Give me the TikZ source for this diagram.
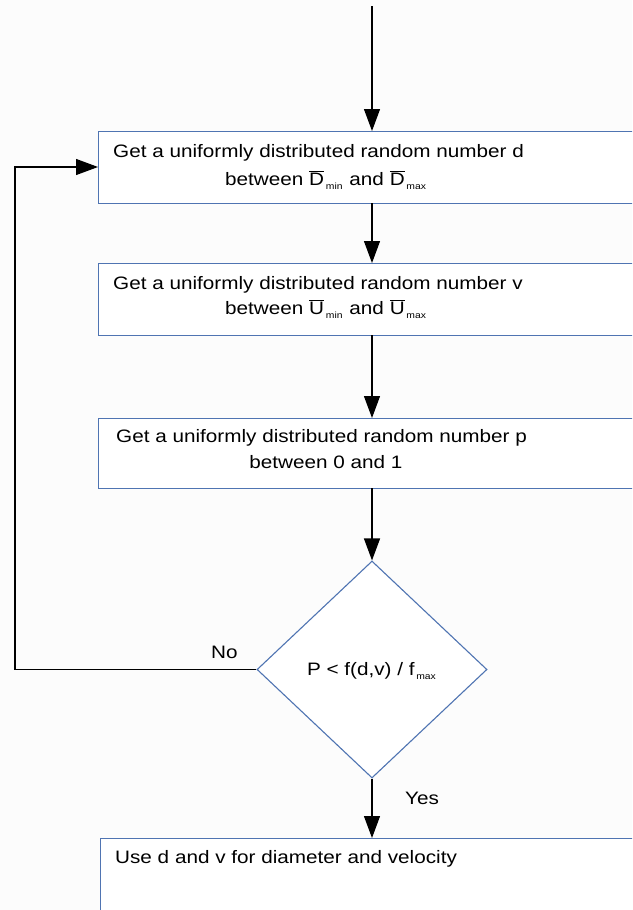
\documentclass[tikz,border=0pt]{standalone}
\usepackage{fontspec}
\usepackage{graphicx}
\setmainfont{Liberation Sans}
\usetikzlibrary{arrows.meta,shapes.geometric}
\definecolor{boxblue}{RGB}{79,116,178}
\newcommand{\lowsub}[1]{\hspace{1.5pt}\raisebox{-4pt}{\fontsize{9}{10}\selectfont #1}\hspace{1pt}}
\newcommand{\barred}[1]{$\overline{\mbox{#1}}$}
\newcommand{\wide}[1]{\scalebox{1.15}[1]{#1}}
\begin{document}
\begin{tikzpicture}[x=1pt,y=-1pt,
  procbox/.style={draw=boxblue,line width=1.1pt,rectangle,anchor=north west,minimum width=560pt,inner sep=0pt},
  txt/.style={anchor=west,inner sep=0pt,font=\fontsize{18}{20}\selectfont},
  ctxt/.style={txt,anchor=center},
  conn/.style={draw=black,line width=1.2pt},
  arr/.style={conn,-{Triangle[length=22pt,width=16pt]}},
  decision/.style={draw=boxblue,line width=1.1pt,diamond,minimum width=230pt,minimum height=217pt,inner sep=0pt}]
\useasboundingbox (0,0) rectangle (632,910);
\clip (0,0) rectangle (632,910);
\fill[white!99!black] (0,0) rectangle (632,910);
\node[procbox,fill=white,minimum height=72pt] (b1) at (98,131) {};
\node[procbox,fill=white,minimum height=72pt] (b2) at (98,263) {};
\node[procbox,fill=white,minimum height=70pt] (b3) at (98,418) {};
\node[decision,fill=white] (dec) at (372,669.5) {};
\node[procbox,fill=white,minimum height=90pt] (b4) at (100,838) {};
\coordinate (top) at (372,6);
\coordinate (b1s) at (372,203);
\coordinate (b2n) at (372,263);
\coordinate (b2s) at (372,335);
\coordinate (b3n) at (372,418);
\coordinate (b3s) at (372,488);
\coordinate (b4n) at (372,838);
\coordinate (b1w) at (98,167);
\coordinate (loopbl) at (15,669.5);
\coordinate (looptl) at (15,167);
\node[txt] (t1a) at (113,153) {\wide{Get a uniformly distributed random number d}};
\node[txt] (t1b) at (225,180) {\wide{between \barred{D}\lowsub{min} and \barred{D}\lowsub{max}}};
\node[txt] (t2a) at (113,285) {\wide{Get a uniformly distributed random number v}};
\node[txt] (t2b) at (225,309) {\wide{between \barred{U}\lowsub{min} and \barred{U}\lowsub{max}}};
\node[txt] (t3a) at (116,438) {\wide{Get a uniformly distributed random number p}};
\node[ctxt] (t3b) at (326,462) {\wide{between 0 and 1}};
\node[txt] (t4) at (115,859) {\wide{Use d and v for diameter and velocity}};
\node[ctxt] (dt) at (372,671) {\wide{P < f(d,v) / f\lowsub{max}}};
\node[txt] (no) at (211,652) {\wide{No}};
\node[txt] (yes) at (405,798) {\wide{Yes}};
\draw[arr] (top) -- (b1.north -| top);
\draw[arr] (b1s) -- (b2n);
\draw[arr] (b2s) -- (b3n);
\draw[arr] (b3s) -- (dec.north);
\draw[arr] (dec.south) -- (b4n);
\draw[arr] (dec.west) -- (loopbl) -- (looptl) -- (b1w);
\end{tikzpicture}
\end{document}
